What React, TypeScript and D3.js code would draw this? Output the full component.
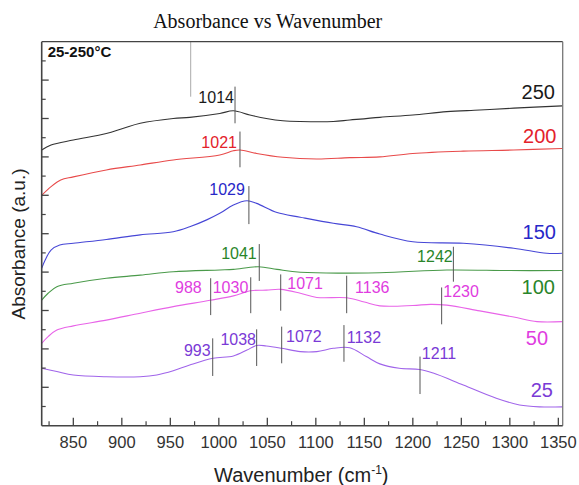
import React from "react";
import * as d3 from "d3";

// ---- data (wavenumber cm-1, absorbance a.u. with offsets) ----
const abs250: [number, number][] = [
  [817.4, 7.18], [827, 7.31], [850, 7.44], [884, 7.61], [901, 7.74], [919, 7.875], [953, 8.0],
  [970, 8.03], [1001, 8.13], [1015, 8.2], [1032, 8.09], [1049, 8.0], [1066, 7.94], [1084, 7.92],
  [1118, 7.92], [1135, 7.96], [1166, 8.03], [1200, 8.09], [1235, 8.18], [1269, 8.22], [1304, 8.27],
  [1354, 8.33],
];
const abs200: [number, number][] = [
  [817.4, 6.0], [826.7, 6.22], [837, 6.4], [850, 6.48], [884, 6.66], [919, 6.79], [953, 6.92],
  [1001, 7.05], [1015, 7.16], [1022, 7.18], [1039, 7.09], [1066, 6.99], [1101, 6.945], [1135, 6.98],
  [1166, 7.0], [1200, 7.09], [1252, 7.15], [1304, 7.18], [1354, 7.22],
];
const abs150: [number, number][] = [
  [817.4, 4.1], [821, 4.315], [827, 4.575], [836, 4.705], [850, 4.75], [884, 4.85], [919, 4.97],
  [953, 5.05], [970, 5.18], [987.5, 5.36], [1001, 5.53], [1015, 5.75], [1029, 5.86], [1039, 5.79],
  [1060, 5.55], [1084, 5.43], [1118, 5.27], [1142, 5.18], [1166, 4.99], [1200, 4.79], [1252, 4.75],
  [1304, 4.62], [1338, 4.49], [1354, 4.49],
];
const abs100: [number, number][] = [
  [817.4, 3.27], [824, 3.45], [833, 3.62], [850, 3.71], [884, 3.84], [919, 3.92], [953, 4.01],
  [1001, 4.055], [1015, 4.07], [1041, 4.14], [1060, 4.07], [1084, 3.995], [1166, 3.985],
  [1235, 4.055], [1300, 4.04], [1354, 4.04],
];
const abs50: [number, number][] = [
  [817.4, 2.145], [824, 2.32], [833, 2.49], [850, 2.6], [884, 2.75], [919, 2.93], [953, 3.1],
  [991, 3.265], [1015, 3.38], [1033, 3.515], [1049, 3.53], [1064, 3.55], [1084, 3.45], [1101, 3.34],
  [1132, 3.33], [1150, 3.22], [1166, 3.12], [1200, 3.13], [1218, 3.16], [1235, 3.14], [1269, 2.99],
  [1304, 2.83], [1328, 2.71], [1354, 2.71],
];
const abs25: [number, number][] = [
  [817.4, 1.495], [833, 1.41], [850, 1.32], [884, 1.275], [919, 1.275], [936, 1.32], [953, 1.43],
  [970, 1.58], [994, 1.755], [1015, 1.815], [1029, 1.97], [1039, 2.09], [1049, 2.075], [1065, 2.015],
  [1084, 1.93], [1101, 1.93], [1118, 2.015], [1135, 2.03], [1152, 1.8], [1166, 1.61], [1186, 1.495],
  [1207, 1.465], [1221, 1.37], [1252, 1.06], [1286, 0.715], [1310, 0.54], [1331, 0.49], [1354, 0.49],
];

type Peak = { label: string; wn: number; top: number; bot: number; labelWn: number; labelY: number; side: "left" | "right" };

const peaks250: Peak[] = [
  { label: "1014", wn: 1016.7, top: 8.83, bot: 7.875, labelWn: 1015.6, labelY: 8.4, side: "left" },
];
const peaks200: Peak[] = [
  { label: "1021", wn: 1021.8, top: 7.66, bot: 6.73, labelWn: 1018.7, labelY: 7.22, side: "left" },
];
const peaks150: Peak[] = [
  { label: "1029", wn: 1031, top: 6.24, bot: 5.25, labelWn: 1026.9, labelY: 6.01, side: "left" },
];
const peaks100: Peak[] = [
  { label: "1041", wn: 1041.7, top: 4.73, bot: 3.77, labelWn: 1039.1, labelY: 4.34, side: "left" },
  { label: "1242", wn: 1241.8, top: 4.66, bot: 3.75, labelWn: 1241.1, labelY: 4.27, side: "left" },
];
const peaks50: Peak[] = [
  { label: "988", wn: 991.6, top: 3.84, bot: 2.88, labelWn: 982.4, labelY: 3.45, side: "left" },
  { label: "1030", wn: 1032.9, top: 3.865, bot: 2.93, labelWn: 1030.4, labelY: 3.455, side: "left" },
  { label: "1071", wn: 1063.8, top: 3.94, bot: 2.995, labelWn: 1070.6, labelY: 3.55, side: "right" },
  { label: "1136", wn: 1131.8, top: 3.905, bot: 2.93, labelWn: 1140.4, labelY: 3.45, side: "right" },
  { label: "1230", wn: 1229.7, top: 3.6, bot: 2.64, labelWn: 1231.4, labelY: 3.36, side: "right" },
];
const peaks25: Peak[] = [
  { label: "993", wn: 993.7, top: 2.275, bot: 1.295, labelWn: 991.6, labelY: 1.815, side: "left" },
  { label: "1038", wn: 1039, top: 2.51, bot: 1.555, labelWn: 1038.3, labelY: 2.1, side: "left" },
  { label: "1072", wn: 1064.8, top: 2.58, bot: 1.625, labelWn: 1069.3, labelY: 2.19, side: "right" },
  { label: "1132", wn: 1129, top: 2.62, bot: 1.665, labelWn: 1131.8, labelY: 2.145, side: "right" },
  { label: "1211", wn: 1207.4, top: 1.8, bot: 0.825, labelWn: 1209.2, labelY: 1.73, side: "right" },
];

const temperatures = ["250", "200", "150", "100", "50", "25"];
const tempLabelWn = [1346.5, 1348, 1347.5, 1346.5, 1339.4, 1344.5];
const tempLabelY = [8.51, 7.36, 4.86, 3.43, 2.1, 0.76];

const xMajorTicks = [850, 900, 950, 1000, 1050, 1100, 1150, 1200, 1250, 1300, 1350];
const xMinorTicks = [825, 875, 925, 975, 1025, 1075, 1125, 1175, 1225, 1275, 1325];
const yMajorTicks = [1, 2, 3, 4, 5, 6, 7, 8, 9];
const yMinorTicks = [0.5, 1.5, 2.5, 3.5, 4.5, 5.5, 6.5, 7.5, 8.5, 9.5];

const seriesData = [abs250, abs200, abs150, abs100, abs50, abs25];
const seriesPeaks = [peaks250, peaks200, peaks150, peaks100, peaks50, peaks25];
const lineColors = ["#333333", "#e84a4a", "#4646d6", "#4a9a4a", "#e864e8", "#a064ea"];
const textColors = ["#1a1a1a", "#e3222b", "#2828c8", "#2a852a", "#e03ce0", "#7a3ad6"];

const W = 579;
const H = 485;
const L = 41.7, R = 562.7, T = 41.7, B = 425.7;

export default function App() {
  const x = d3.scaleLinear().domain([817.4, 1354.5]).range([L, R]);
  const y = d3.scaleLinear().domain([0, 10]).range([B, T]);
  const line = d3
    .line<[number, number]>()
    .x((d) => x(d[0]))
    .y((d) => y(d[1]))
    .curve(d3.curveCatmullRom.alpha(0.5));
  const sans = "'Liberation Sans', Arial, Helvetica, sans-serif";
  const axisColor = "#444";

  return (
    <svg
      width={W}
      height={H}
      viewBox={`0 0 ${W} ${H}`}
      style={{ position: "absolute", left: 0, top: 0, background: "#fff" }}
      fontFamily={sans}
    >
      <rect x={0} y={0} width={W} height={H} fill="#fff" />
      <text
        x={267.7}
        y={28}
        textAnchor="middle"
        fontFamily="'Liberation Serif', 'Times New Roman', serif"
        fontSize={20}
        fill="#111"
      >
        Absorbance vs Wavenumber
      </text>

      {/* stray vertical gray line near top */}
      <line x1={190.7} x2={190.7} y1={T} y2={96.7} stroke="#aaa" strokeWidth={1} />

      {/* curves */}
      {seriesData.map((d, i) => (
        <path key={"s" + i} d={line(d) || ""} fill="none" stroke={lineColors[i]} strokeWidth={1.1} />
      ))}

      {/* peak markers and labels */}
      {seriesPeaks.map((ps, i) =>
        ps.map((p) => (
          <g key={"p" + i + p.label}>
            <line x1={x(p.wn)} x2={x(p.wn)} y1={y(p.top)} y2={y(p.bot)} stroke="#555" strokeWidth={1} />
            <text
              x={x(p.labelWn)}
              y={y(p.labelY)}
              textAnchor={p.side === "left" ? "end" : "start"}
              fontSize={16}
              fill={textColors[i]}
            >
              {p.label}
            </text>
          </g>
        ))
      )}

      {/* temperature labels */}
      {temperatures.map((t, i) => (
        <text
          key={"t" + t}
          x={x(tempLabelWn[i])}
          y={y(tempLabelY[i])}
          textAnchor="end"
          fontSize={20}
          fill={textColors[i]}
        >
          {t}
        </text>
      ))}

      {/* frame */}
      <line x1={L} x2={R} y1={T} y2={T} stroke={axisColor} strokeWidth={1.3} />
      <line x1={R} x2={R} y1={T} y2={B} stroke="#777" strokeWidth={1.3} />
      <line x1={L} x2={L} y1={T} y2={B} stroke={axisColor} strokeWidth={1.6} />
      <line x1={L} x2={R} y1={B} y2={B} stroke={axisColor} strokeWidth={1.6} />

      {/* x ticks */}
      {xMajorTicks.map((v) => (
        <g key={"xm" + v}>
          <line x1={x(v)} x2={x(v)} y1={B} y2={B - 8} stroke={axisColor} strokeWidth={1.3} />
          <text x={x(v)} y={448} textAnchor="middle" fontSize={16.5} fill="#333">
            {v}
          </text>
        </g>
      ))}
      {xMinorTicks.map((v) => (
        <line key={"xn" + v} x1={x(v)} x2={x(v)} y1={B} y2={B - 4.5} stroke={axisColor} strokeWidth={1.2} />
      ))}

      {/* y ticks */}
      {yMajorTicks.map((v) => (
        <line key={"ym" + v} x1={L} x2={L + 7} y1={y(v)} y2={y(v)} stroke={axisColor} strokeWidth={1.3} />
      ))}
      {yMinorTicks.map((v) => (
        <line key={"yn" + v} x1={L} x2={L + 4} y1={y(v)} y2={y(v)} stroke={axisColor} strokeWidth={1.2} />
      ))}

      <text x={47.7} y={57} fontSize={15} fontWeight="bold" fill="#111">
        25-250°C
      </text>

      {/* axis titles */}
      <text x={301.3} y={481.5} textAnchor="middle" fontSize={20} fill="#222">
        Wavenumber (cm
        <tspan dy={-8} fontSize={12}>
          -1
        </tspan>
        <tspan dy={8}>)</tspan>
      </text>
      <text transform="translate(25,244) rotate(-90)" textAnchor="middle" fontSize={19} fill="#222">
        Absorbance (a.u.)
      </text>
    </svg>
  );
}
